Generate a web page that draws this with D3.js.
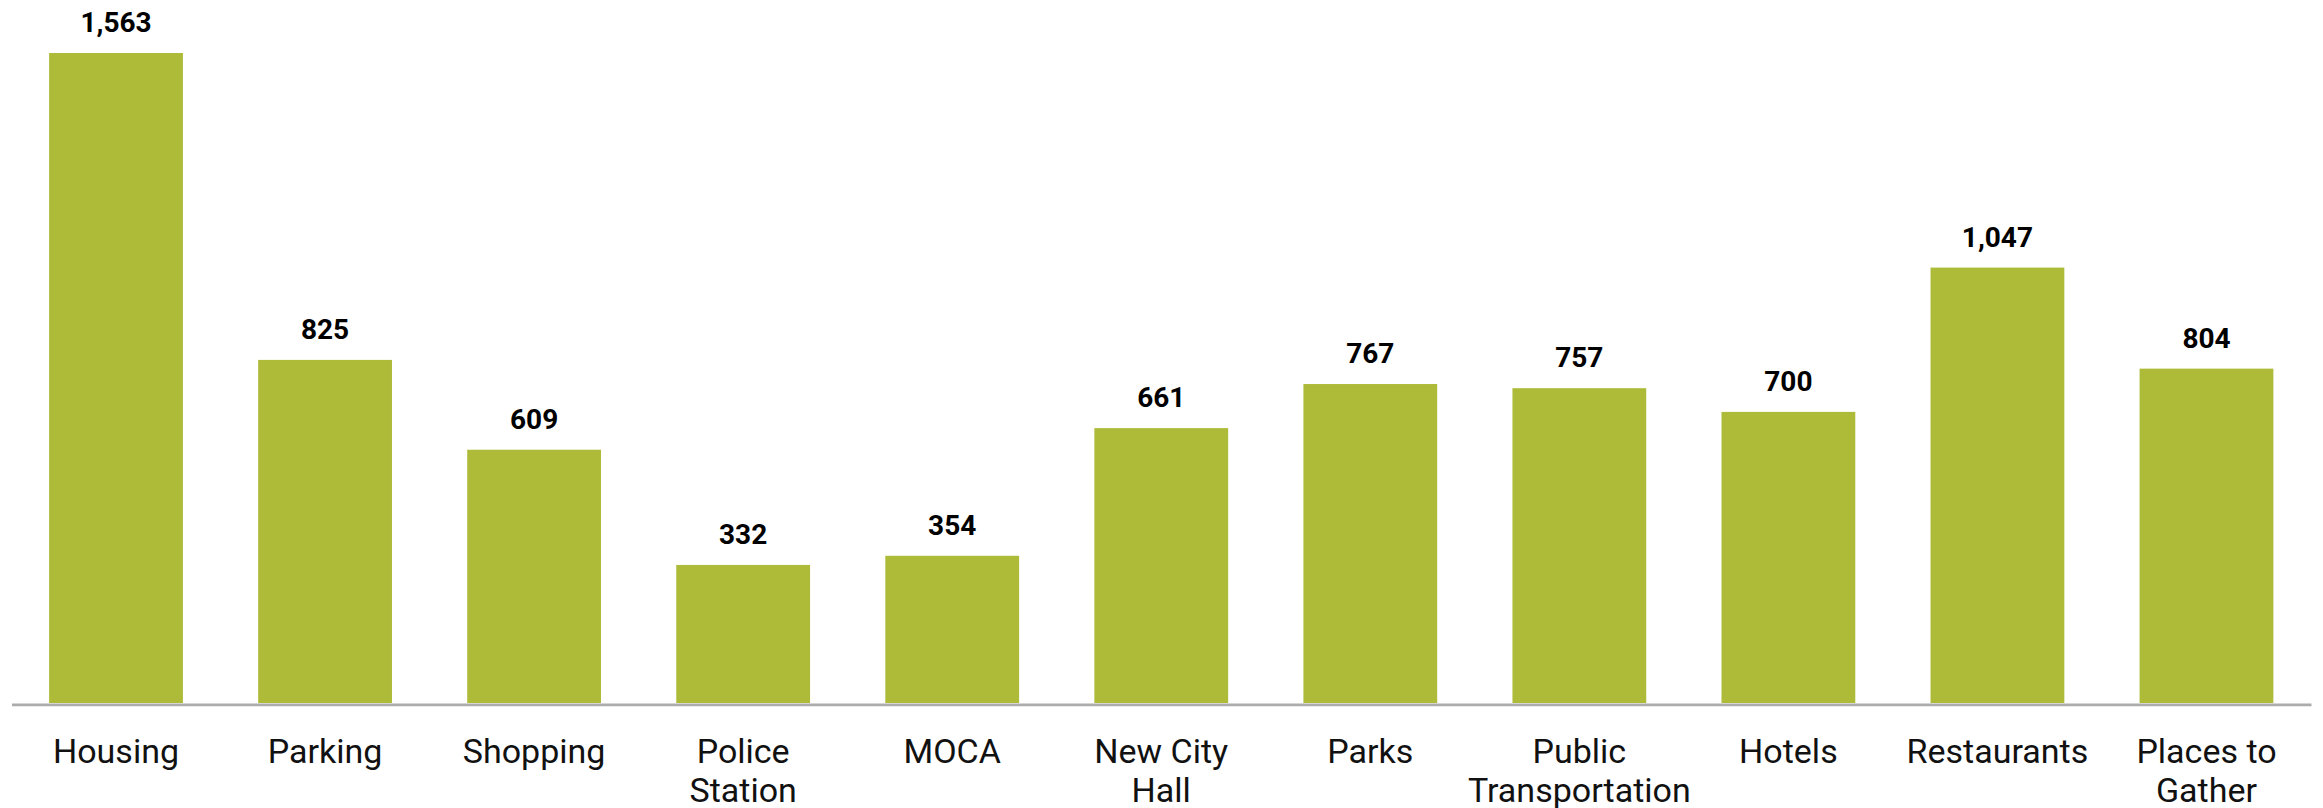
<!DOCTYPE html>
<html>
<head>
<meta charset="utf-8">
<script src="https://cdn.jsdelivr.net/npm/d3@7"></script>
<style>
  html, body { margin: 0; padding: 0; background: #fff; }
  svg { display: block; font-family: Roboto, "Noto Sans", sans-serif; }
</style>
</head>
<body>
<div id="viz"></div>
<script>
var categories = ['Housing', 'Parking', 'Shopping', 'Police Station', 'MOCA', 'New City Hall',
                  'Parks', 'Public Transportation', 'Hotels', 'Restaurants', 'Places to Gather'],
    labelLines = [['Housing'], ['Parking'], ['Shopping'], ['Police', 'Station'], ['MOCA'], ['New City', 'Hall'],
                  ['Parks'], ['Public', 'Transportation'], ['Hotels'], ['Restaurants'], ['Places to', 'Gather']],
    counts = [1563, 825, 609, 332, 354, 661, 767, 757, 700, 1047, 804],

    width = 2323,
    height = 808,
    margin = {top: 53, right: 12, bottom: 105, left: 11.5},

    svg = d3.select('#viz')
        .append('svg')
            .attr('width', width)
            .attr('height', height),

    x = d3.scaleBand()
        .domain(categories)
        .range([margin.left, width - margin.right])
        .paddingInner(0.36)
        .paddingOuter(0.18),

    y = d3.scaleLinear()
        .domain([0, 1563])
        .range([height - margin.bottom, margin.top]);

var bars = svg.append('g').attr('class', 'bars');

bars.selectAll('rect')
    .data(counts)
    .enter().append('rect')
        .attr('x', function (d, i) { return x(categories[i]); })
        .attr('y', function (d) { return y(d); })
        .attr('width', x.bandwidth())
        .attr('height', function (d) { return y(0) - y(d); })
        .style('fill', '#adbb38');

svg.append('g').attr('class', 'values')
    .selectAll('text')
    .data(counts)
    .enter().append('text')
        .attr('x', function (d, i) { return x(categories[i]) + x.bandwidth() / 2; })
        .attr('y', function (d) { return y(d) - 21; })
        .attr('text-anchor', 'middle')
        .style('font-size', '28px')
        .style('font-weight', 700)
        .style('fill', '#000')
        .text(function (d) { return d3.format(',')(d); });

// baseline
var xAxis = svg.append('g')
    .attr('transform', 'translate(0,' + (y(0) + 1.3) + ')')
    .call(d3.axisBottom(x).tickSize(0).tickFormat(''));

xAxis.select('.domain')
    .attr('stroke', '#acacac')
    .attr('stroke-width', 2.7);

// category labels, split over lines
var labels = svg.append('g').attr('class', 'labels')
    .selectAll('text')
    .data(labelLines)
    .enter().append('text')
        .attr('x', function (d, i) { return x(categories[i]) + x.bandwidth() / 2; })
        .attr('y', 763)
        .attr('text-anchor', 'middle')
        .style('font-size', '34px')
        .style('fill', '#111');

labels.selectAll('tspan')
    .data(function (d) { return d; })
    .enter().append('tspan')
        .attr('x', function () { return d3.select(this.parentNode).attr('x'); })
        .attr('dy', function (d, i) { return i === 0 ? 0 : 39; })
        .text(function (d) { return d; });
</script>
</body>
</html>
